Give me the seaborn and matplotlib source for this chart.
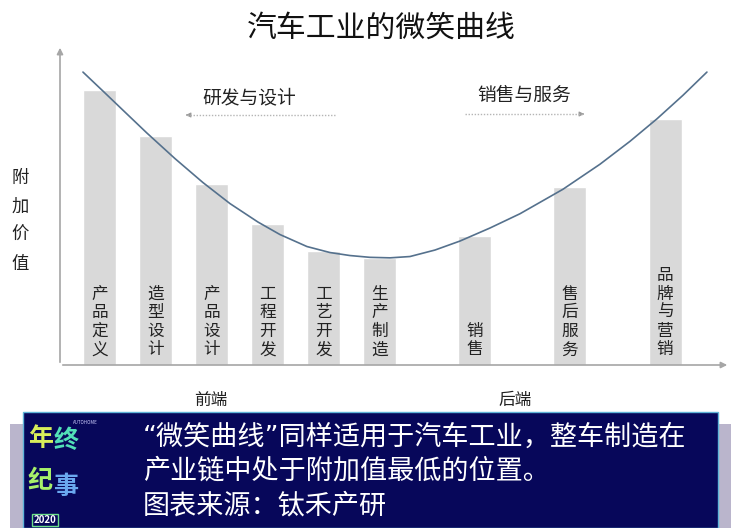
import numpy as np
import pandas as pd
import matplotlib
matplotlib.use('Agg')
import matplotlib.pyplot as plt
from matplotlib.lines import Line2D
from matplotlib.patches import Rectangle, FancyArrowPatch
import seaborn as sns

sns.set_style('white')
plt.rcParams['font.family'] = ['Noto Sans CJK SC', 'DejaVu Sans']

# stages of the value chain (bars)
stages = ['产品定义', '造型设计', '产品设计', '工程开发', '工艺开发', '生产制造', '销售', '售后服务', '品牌与营销']
stage_pos = [0, 1, 2, 3, 4, 5, 6.7, 8.4, 10.1]
stage_value = [9.17, 7.63, 6.03, 4.70, 3.81, 3.56, 4.31, 5.93, 8.19]

# the smile curve
curve_x = [-0.295, 0.063, 0.455, 0.848, 1.348, 1.848, 2.330, 2.830, 3.223, 3.705, 4.116,
           4.473, 4.830, 5.188, 5.545, 5.991, 6.438, 6.973, 7.509, 8.277, 8.937, 9.473,
           9.955, 10.420, 10.848]
curve_y = [9.767, 9.133, 8.433, 7.733, 6.883, 6.083, 5.383, 4.767, 4.350, 3.950, 3.750,
           3.650, 3.590, 3.573, 3.617, 3.833, 4.133, 4.567, 5.043, 5.860, 6.693, 7.457,
           8.207, 8.993, 9.767]

title = '汽车工业的微笑曲线'
ylabel = '附加价值'
left_note, right_note = '研发与设计', '销售与服务'
front_label, back_label = '前端', '后端'
banner_lines = ['“微笑曲线”同样适用于汽车工业，整车制造在',
                '产业链中处于附加值最低的位置。',
                '图表来源：钛禾产研']

W, H = 744, 528


def px(x, y):
    return x / W, 1 - y / H


fig = plt.figure(figsize=(W / 100, H / 100), dpi=100)
fig.patch.set_facecolor('white')

# main axes: y axis at x=60px, x axis at y=365px
ax = fig.add_axes([60 / W, (H - 365) / H, 670 / W, 320 / H])
df = pd.DataFrame({'pos': stage_pos, 'value': stage_value})
sns.barplot(data=df, x='pos', y='value', native_scale=True, width=0.59,
            color='#d9d9d9', saturation=1, errorbar=None, ax=ax)
sns.lineplot(x=curve_x, y=curve_y, color='#55718d', lw=1.2, ax=ax)

ax.set_xlim(-0.705, 11.26)
ax.set_ylim(0, 10.67)
ax.set_xticks([])
ax.set_yticks([])
ax.set_xlabel('')
ax.set_ylabel('')
for s in ax.spines.values():
    s.set_visible(False)
ax.patch.set_alpha(0)

# axis arrows
ax.annotate('', xy=(0, 1.0), xytext=(0, 0), xycoords='axes fraction',
            arrowprops=dict(arrowstyle='-|>', color='#a6a6a6', lw=1.2, mutation_scale=9))
ax.annotate('', xy=(1.0, 0), xytext=(0, 0), xycoords='axes fraction',
            arrowprops=dict(arrowstyle='-|>', color='#a6a6a6', lw=1.2, mutation_scale=9))

# labels inside the bars
for p, name in zip(stage_pos, stages):
    ax.text(p, 0.22, '\n'.join(name), ha='center', va='bottom', fontsize=12,
            linespacing=1.12, color='#222222')

fig.text(*px(381, 28), title, ha='center', va='center', fontsize=21.5, color='#111111')
fig.text(*px(20, 221), '\n'.join(ylabel), ha='center', va='center', fontsize=12.5,
         linespacing=1.75, color='#222222')

# direction notes with dotted arrows
fig.text(*px(249, 98), left_note, ha='center', va='center', fontsize=13.5, color='#222222')
fig.text(*px(524, 95), right_note, ha='center', va='center', fontsize=13.5, color='#222222')
for (x0, x1, y) in [(335, 186, 115), (465, 584, 114)]:
    fig.add_artist(Line2D([x0 / W, x1 / W], [1 - y / H, 1 - y / H], color='#b5b5b5',
                          lw=1.0, ls=(0, (1, 1.2))))
    d = -1 if x1 < x0 else 1
    fig.add_artist(FancyArrowPatch(px(x1 - d * 4, y), px(x1 + d * 3, y), arrowstyle='-|>',
                                   mutation_scale=7, color='#9a9a9a', lw=0.8,
                                   transform=fig.transFigure))

fig.text(*px(211, 400), front_label, ha='center', va='center', fontsize=12, color='#222222')
fig.text(*px(515, 400), back_label, ha='center', va='center', fontsize=12, color='#222222')

# bottom banner
fig.add_artist(Rectangle(px(10, 528), 721 / W, 104 / H, transform=fig.transFigure,
                         facecolor='#bab5cc', edgecolor='none'))
fig.add_artist(Rectangle(px(23, 528), 695 / W, 116 / H, transform=fig.transFigure,
                         facecolor='#07075a', edgecolor='#5fb4d8', lw=1.0))
for i, line in enumerate(banner_lines):
    fig.text(*px(143, 438 + i * 34), line, ha='left', va='center', fontsize=19.5,
             color='white', family=['DejaVu Sans', 'Noto Sans CJK SC'])

# logo
logo = [('年', 41, 439, '#d9ee5a'), ('终', 66, 441, '#52e0b8'),
        ('纪', 40, 481, '#a6f06a'), ('事', 66, 487, '#6aa8f0')]
for ch, x, y, c in logo:
    fig.text(*px(x, y), ch, ha='center', va='center', fontsize=18, fontweight='bold', color=c)
fig.text(*px(85, 423), 'AUTOHOME', ha='center', va='center', fontsize=3.2, color='#cfcfff')
fig.text(*px(45, 520), '2020', ha='center', va='center', fontsize=7, fontweight='bold',
         color='white', bbox=dict(boxstyle='square,pad=0.15', fc='#07075a', ec='#6de08a', lw=1))

fig.savefig('out.png', dpi=100)
